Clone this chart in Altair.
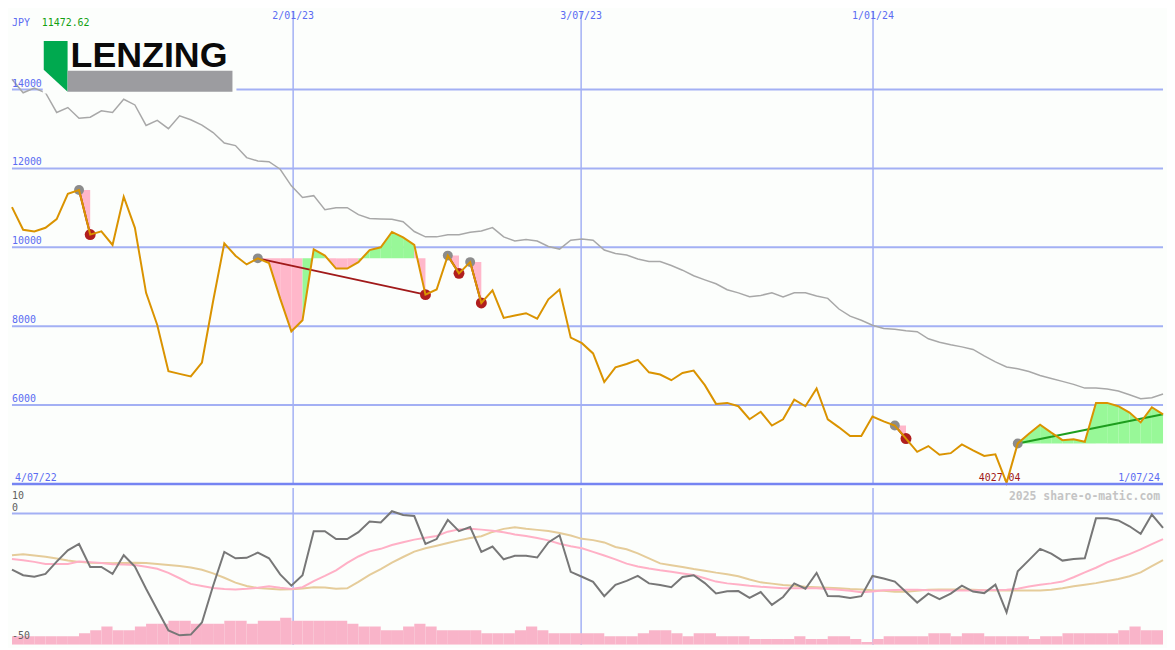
import altair as alt
import pandas as pd

# ---------------- data ----------------
price = [11020, 10446, 10404, 10495, 10717, 11357, 11455, 10323, 10404, 10059,
         11283, 10495, 8845, 8032, 6857, 6790, 6727, 7079, 8640, 10101,
         9788, 9566, 9720, 9600, 8700, 7870, 8150, 9950, 9790, 9460,
         9460, 9625, 9930, 10000, 10390, 10250, 10060, 8800, 8930, 9790,
         9340, 9625, 8590, 8910, 8210, 8270, 8330, 8190, 8680, 8930,
         7710, 7570, 7310, 6585, 6955, 7040, 7145, 6830, 6775, 6630,
         6815, 6875, 6505, 6030, 6055, 5970, 5640, 5830, 5480, 5640,
         6135, 5970, 6420, 5640, 5435, 5215, 5215, 5710, 5585, 5480,
         5150, 4815, 4960, 4740, 4780, 5000, 4850, 4710, 4750, 4027.04,
         5027, 5273, 5500, 5300, 5110, 5135, 5070, 6055, 6055, 5970,
         5810, 5560, 5945, 5765]

ma_line = [14260, 13920, 14040, 13920, 13420, 13545, 13275, 13300, 13460, 13420,
           13755, 13610, 13090, 13220, 13010, 13335, 13235, 13100, 12910, 12645,
           12580, 12275, 12190, 12170, 11980, 11560, 11265, 11310, 10955, 11005,
           11005, 10830, 10730, 10720, 10710, 10650, 10400, 10265, 10265, 10320,
           10320, 10380, 10415, 10500, 10265, 10160, 10200, 10160, 10020, 9955,
           10180, 10210, 10180, 9930, 9845, 9805, 9705, 9640, 9640, 9540,
           9420, 9280, 9175, 9075, 8925, 8845, 8745, 8780, 8845, 8740,
           8845, 8845, 8765, 8705, 8435, 8255, 8150, 8025, 7940, 7925,
           7885, 7860, 7680, 7595, 7530, 7475, 7410, 7245, 7095, 6965,
           6920, 6850, 6750, 6675, 6600, 6525, 6430, 6430, 6405, 6355,
           6260, 6160, 6185, 6280]

osc = [-21.9, -24.1, -24.7, -23.6, -18.8, -14.4, -11.9, -20.9, -20.9, -23.6,
       -16.3, -20.7, -29.4, -37.6, -45.7, -47.6, -47.3, -42.6, -28.2, -15.0,
       -17.5, -17.3, -15.3, -17.5, -23.8, -28.2, -24.1, -6.9, -6.9, -10.0,
       -10.0, -7.3, -3.1, -3.5, 0.9, -0.6, -1.0, -11.9, -10.0, -2.5,
       -6.9, -5.3, -15.0, -12.9, -17.9, -16.5, -16.5, -17.2, -11.3, -8.5,
       -22.8, -24.7, -26.7, -32.3, -27.9, -26.3, -24.4, -27.3, -27.9, -28.8,
       -24.8, -24.1, -27.2, -31.2, -30.4, -30.3, -33.0, -30.7, -35.7, -32.6,
       -27.3, -29.4, -23.2, -32.2, -32.3, -33.0, -32.3, -24.4, -25.4, -26.6,
       -30.7, -34.8, -31.3, -33.5, -31.3, -28.2, -30.5, -31.1, -27.8, -38.6,
       -22.6, -18.2, -13.8, -15.7, -18.4, -17.8, -17.5, -1.9, -1.9, -2.7,
       -5.0, -7.9, -0.4, -5.6]

osc_fast = [-17.8, -18.3, -18.9, -19.7, -19.7, -19.7, -18.8, -19.0, -19.3, -19.8,
            -19.9, -20.1, -20.8, -21.6, -23.2, -25.3, -27.5, -28.3, -29.1, -29.5,
            -29.7, -29.4, -29.0, -28.4, -29.0, -29.5, -28.8, -26.4, -24.4, -22.2,
            -19.3, -16.8, -14.8, -13.8, -12.3, -11.2, -10.2, -9.5, -8.8, -7.1,
            -6.2, -6.0, -6.3, -6.7, -7.3, -8.2, -8.8, -9.6, -10.5, -11.8,
            -12.8, -13.6, -15.0, -16.4, -17.9, -19.6, -20.7, -21.5, -22.2, -22.8,
            -23.4, -24.0, -25.3, -26.6, -27.3, -27.7, -28.2, -28.6, -28.9, -29.2,
            -29.2, -29.2, -29.2, -29.5, -29.8, -30.2, -30.8, -30.5, -30.0, -29.9,
            -29.8, -29.8, -30.0, -30.1, -30.1, -30.1, -30.1, -30.0, -29.9, -29.8,
            -29.4, -28.5, -27.8, -27.3, -26.6, -24.9, -23.0, -21.2, -19.1, -17.5,
            -15.9, -14.0, -12.0, -10.0]

osc_slow = [-16.3, -15.9, -16.4, -16.9, -17.6, -18.4, -18.9, -19.2, -19.3, -19.4,
            -19.3, -19.2, -19.3, -19.7, -20.1, -20.5, -21.1, -22.0, -23.4, -25.1,
            -27.0, -28.3, -29.1, -29.4, -29.7, -29.6, -29.3, -28.8, -28.9, -29.4,
            -29.2, -26.7, -24.0, -21.7, -19.2, -17.0, -14.9, -13.6, -12.6, -11.5,
            -10.5, -9.6, -8.9, -7.2, -6.0, -5.4, -6.0, -6.4, -6.8, -7.6,
            -8.6, -9.9, -10.4, -11.3, -13.1, -14.0, -15.6, -17.5, -19.5, -20.2,
            -20.9, -21.7, -22.4, -23.1, -23.7, -24.5, -25.8, -26.9, -27.4, -27.9,
            -28.2, -28.6, -28.8, -29.0, -29.2, -29.5, -29.7, -30.0, -30.2, -30.6,
            -30.6, -30.2, -29.8, -29.7, -29.7, -29.7, -29.8, -30.0, -30.1, -30.1,
            -30.1, -30.1, -30.1, -29.8, -29.2, -28.4, -27.8, -27.2, -26.4, -25.6,
            -24.5, -23.0, -20.6, -18.2]

volume = [9, 9, 9, 9, 9, 9, 12, 15, 19, 15,
          15, 19, 22, 22, 25, 25, 22, 22, 22, 25,
          25, 22, 25, 25, 28, 25, 25, 25, 25, 25,
          22, 19, 19, 15, 15, 19, 22, 19, 15, 15,
          15, 15, 12, 12, 12, 15, 19, 15, 12, 12,
          12, 12, 12, 9, 9, 9, 12, 15, 15, 12,
          9, 12, 12, 9, 9, 9, 6, 6, 6, 6,
          9, 6, 6, 9, 9, 6, 3, 6, 9, 9,
          9, 9, 12, 12, 9, 12, 12, 9, 9, 9,
          9, 6, 9, 9, 12, 12, 12, 12, 12, 15,
          19, 15, 15, 15]

price_ticks = [6000, 8000, 10000, 12000, 14000]
osc_ticks_top = [10]
osc_ticks_low = [0, -50]
date_grid = [25.16, 50.93, 77.05]
date_labels = ["2/01/23", "3/07/23", "1/01/24"]
first_date = "4/07/22"
last_date = "1/07/24"
sig_start = [6, 22, 39, 41, 79, 90]
sig_end = [7, 37, 40, 42, 80, 103]
sig_closed = [True, True, True, True, True, False]
currency = "JPY"
quote = "11472.62"
brand = "LENZING"
copyright_txt = "2025 share-o-matic.com"

# ---------------- styling ----------------
W, H1, H2 = 1159, 476, 158
BG = "#fcfefc"
GRID = "#a3b0f4"
AXIS = "#7584f2"
LABEL_BLUE = "#5b6cf2"
PRICE_C = "#da9300"
MA_C = "#a8a8a8"
PINK_FILL = "#ffb7ca"
GREEN_FILL = "#98f898"
RED_LINE = "#a11a1a"
GREEN_LINE = "#1e9e1e"
DOT_GRAY = "#8c8c8c"
DOT_RED = "#b01e1e"
OSC_C = "#777777"
FAST_C = "#ffb0c6"
SLOW_C = "#e5cc9a"
VOL_C = "#f9b4c9"
MONO = "DejaVu Sans Mono"

n = len(price)
idx = list(range(n))
df = pd.DataFrame({"i": idx, "i2": [k + 1 for k in idx], "z": [0] * n,
                   "price": price, "ma": ma_line, "osc": osc,
                   "fast": osc_fast, "slow": osc_slow, "vol": volume})

xs = alt.Scale(domain=[0, n - 1], nice=False, zero=False)
ys = alt.Scale(domain=[4000, 15988], nice=False, zero=False)
yo = alt.Scale(domain=[-51.3, 10], nice=False, zero=False)
yv = alt.Scale(domain=[0, 163], nice=False, zero=True)

X = alt.X("i:Q", scale=xs, axis=None)

# fill polygons between price and signal level
fill_rows, conn_rows, start_rows, end_rows = [], [], [], []
for k, (s, e) in enumerate(zip(sig_start, sig_end)):
    lvl = price[s]
    for j in range(s, e):
        c = GREEN_FILL if price[j + 1] > lvl else PINK_FILL
        for q in (j, j + 1):
            fill_rows.append({"seg": f"{k}-{j}", "x": q, "p": price[q], "lvl": lvl, "c": c})
    lc = RED_LINE if sig_closed[k] else GREEN_LINE
    conn_rows.append({"sig": k, "x": s, "p": price[s], "c": lc})
    conn_rows.append({"sig": k, "x": e, "p": price[e], "c": lc})
    start_rows.append({"x": s, "p": price[s]})
    if sig_closed[k]:
        end_rows.append({"x": e, "p": price[e]})
fill_df = pd.DataFrame(fill_rows)
conn_df = pd.DataFrame(conn_rows)
start_df = pd.DataFrame(start_rows)
end_df = pd.DataFrame(end_rows)

low_i = min(idx, key=lambda k: price[k])
low_df = pd.DataFrame({"x": [low_i], "p": [4000], "t": [f"{price[low_i]:.2f}"]})
dg = pd.DataFrame({"g": date_grid, "t": date_labels})


def one(text):
    return pd.DataFrame({"t": [text]})


# ---------------- upper panel ----------------
hgrid = alt.Chart(pd.DataFrame({"v": price_ticks})).mark_rule(color=GRID, strokeWidth=2).encode(
    y=alt.Y("v:Q", scale=ys, axis=None))
vgrid_up = alt.Chart(dg).mark_rule(color=GRID, strokeWidth=1.5).encode(
    x=alt.X("g:Q", scale=xs, axis=None))
base_rule = alt.Chart(pd.DataFrame({"v": [4000]})).mark_rule(color=AXIS, strokeWidth=2.5).encode(
    y=alt.Y("v:Q", scale=ys, axis=None))

fills = alt.Chart(fill_df).mark_area(opacity=1, interpolate="linear").encode(
    x=alt.X("x:Q", scale=xs, axis=None),
    y=alt.Y("p:Q", scale=ys, axis=None),
    y2=alt.Y2("lvl"),
    color=alt.Color("c:N", scale=None),
    detail="seg:N")

ma_l = alt.Chart(df).mark_line(color=MA_C, strokeWidth=1.5).encode(
    x=X, y=alt.Y("ma:Q", scale=ys, axis=None))

conn = alt.Chart(conn_df).mark_line(strokeWidth=2).encode(
    x=alt.X("x:Q", scale=xs, axis=None),
    y=alt.Y("p:Q", scale=ys, axis=None),
    color=alt.Color("c:N", scale=None),
    detail="sig:N")

start_dots = alt.Chart(start_df).mark_circle(size=100, color=DOT_GRAY, opacity=1).encode(
    x=alt.X("x:Q", scale=xs, axis=None), y=alt.Y("p:Q", scale=ys, axis=None))
end_dots = alt.Chart(end_df).mark_circle(size=121, color=DOT_RED, opacity=1).encode(
    x=alt.X("x:Q", scale=xs, axis=None), y=alt.Y("p:Q", scale=ys, axis=None))

low_txt = alt.Chart(low_df).mark_text(align="center", baseline="alphabetic", dx=-7, dy=-3,
                                      font=MONO, fontSize=10, color="#a01818").encode(
    x=alt.X("x:Q", scale=xs, axis=None), y=alt.Y("p:Q", scale=ys, axis=None), text="t:N")

price_l = alt.Chart(df).mark_line(color=PRICE_C, strokeWidth=2).encode(
    x=X, y=alt.Y("price:Q", scale=ys, axis=None))

tick_txt = alt.Chart(pd.DataFrame({"v": price_ticks, "t": [str(v) for v in price_ticks]})).mark_text(
    align="left", baseline="alphabetic", dy=-3, font=MONO, fontSize=10, color=LABEL_BLUE).encode(
    x=alt.value(0), y=alt.Y("v:Q", scale=ys, axis=None), text="t:N")

date_top = alt.Chart(dg).mark_text(align="center", baseline="top", font=MONO, fontSize=10,
                                   color=LABEL_BLUE).encode(
    x=alt.X("g:Q", scale=xs, axis=None), y=alt.value(0), text="t:N")

first_txt = alt.Chart(pd.DataFrame({"x": [0], "p": [4000], "t": [first_date]})).mark_text(
    align="left", baseline="alphabetic", dx=3, dy=-3, font=MONO, fontSize=10, color=LABEL_BLUE).encode(
    x=alt.X("x:Q", scale=xs, axis=None), y=alt.Y("p:Q", scale=ys, axis=None), text="t:N")
last_txt = alt.Chart(pd.DataFrame({"x": [n - 1], "p": [4000], "t": [last_date]})).mark_text(
    align="right", baseline="alphabetic", dx=-3, dy=-3, font=MONO, fontSize=10, color=LABEL_BLUE).encode(
    x=alt.X("x:Q", scale=xs, axis=None), y=alt.Y("p:Q", scale=ys, axis=None), text="t:N")

cur_txt = alt.Chart(one(currency)).mark_text(align="left", baseline="alphabetic", font=MONO,
                                             fontSize=10, color=LABEL_BLUE).encode(
    x=alt.value(0), y=alt.value(15), text="t:N")
quote_txt = alt.Chart(one(quote)).mark_text(align="left", baseline="alphabetic", font=MONO,
                                            fontSize=10, color="#12a012").encode(
    x=alt.value(30), y=alt.value(15), text="t:N")

# logo
logo_box = alt.Chart(one("box")).mark_rect(color=BG).encode(
    x=alt.value(31), x2=alt.value(226), y=alt.value(24), y2=alt.value(83))
logo_green = alt.Chart(one("g")).mark_point(
    shape="M-0.4706,-1L0.4706,-1L0.4706,1L-0.4706,0.137Z", size=2601, filled=True,
    color="#00a94f", opacity=1, strokeWidth=0).encode(x=alt.value(44), y=alt.value(55.5))
logo_bar = alt.Chart(one("b")).mark_rect(color="#9c9ca0").encode(
    x=alt.value(56), x2=alt.value(222), y=alt.value(60), y2=alt.value(81))
logo_txt = alt.Chart(one(brand)).mark_text(align="left", baseline="alphabetic",
                                           font="Liberation Sans", fontWeight="bold",
                                           fontSize=36, color="#0a0a0a").encode(
    x=alt.value(59), y=alt.value(56), text="t:N")

upper = alt.layer(
    hgrid, vgrid_up, fills, ma_l, conn, start_dots, end_dots, low_txt, price_l,
    base_rule, tick_txt, date_top, first_txt, last_txt, cur_txt, quote_txt,
    logo_box, logo_green, logo_bar, logo_txt
).properties(width=W, height=H1)

# ---------------- lower panel ----------------
grid0 = alt.Chart(pd.DataFrame({"v": [0]})).mark_rule(color=GRID, strokeWidth=2).encode(
    y=alt.Y("v:Q", scale=yo, axis=None))
vgrid_low = alt.Chart(dg).mark_rule(color=GRID, strokeWidth=1.5).encode(
    x=alt.X("g:Q", scale=xs, axis=None))
vol_bars = alt.Chart(df).mark_rect(color=VOL_C, clip=True).encode(
    x=X, x2=alt.X2("i2"), y=alt.Y("vol:Q", scale=yv, axis=None), y2=alt.Y2("z"))
slow_l = alt.Chart(df).mark_line(color=SLOW_C, strokeWidth=2).encode(
    x=X, y=alt.Y("slow:Q", scale=yo, axis=None))
fast_l = alt.Chart(df).mark_line(color=FAST_C, strokeWidth=2).encode(
    x=X, y=alt.Y("fast:Q", scale=yo, axis=None))
osc_l = alt.Chart(df).mark_line(color=OSC_C, strokeWidth=2).encode(
    x=X, y=alt.Y("osc:Q", scale=yo, axis=None))
otop_txt = alt.Chart(pd.DataFrame({"v": osc_ticks_top, "t": [str(v) for v in osc_ticks_top]})).mark_text(
    align="left", baseline="top", dy=3, font=MONO, fontSize=10, color="#606060").encode(
    x=alt.value(0), y=alt.Y("v:Q", scale=yo, axis=None), text="t:N")
olow_txt = alt.Chart(pd.DataFrame({"v": osc_ticks_low, "t": [str(v) for v in osc_ticks_low]})).mark_text(
    align="left", baseline="alphabetic", dy=-3, font=MONO, fontSize=10, color="#606060").encode(
    x=alt.value(0), y=alt.Y("v:Q", scale=yo, axis=None), text="t:N")
copy_txt = alt.Chart(one(copyright_txt)).mark_text(align="right", baseline="middle", font=MONO,
                                                   fontWeight="bold", fontSize=11.5,
                                                   color="#c4c4c4").encode(
    x=alt.value(W - 3), y=alt.value(9), text="t:N")

lower = alt.layer(
    grid0, vgrid_low, vol_bars, slow_l, fast_l, osc_l, otop_txt, olow_txt, copy_txt
).properties(width=W, height=H2).resolve_scale(y="independent")

chart = alt.vconcat(upper, lower, spacing=0).properties(
    padding=0, background=BG
).configure_view(stroke=None)

chart.save("out.html", embed_options={"renderer": "svg", "actions": False})
